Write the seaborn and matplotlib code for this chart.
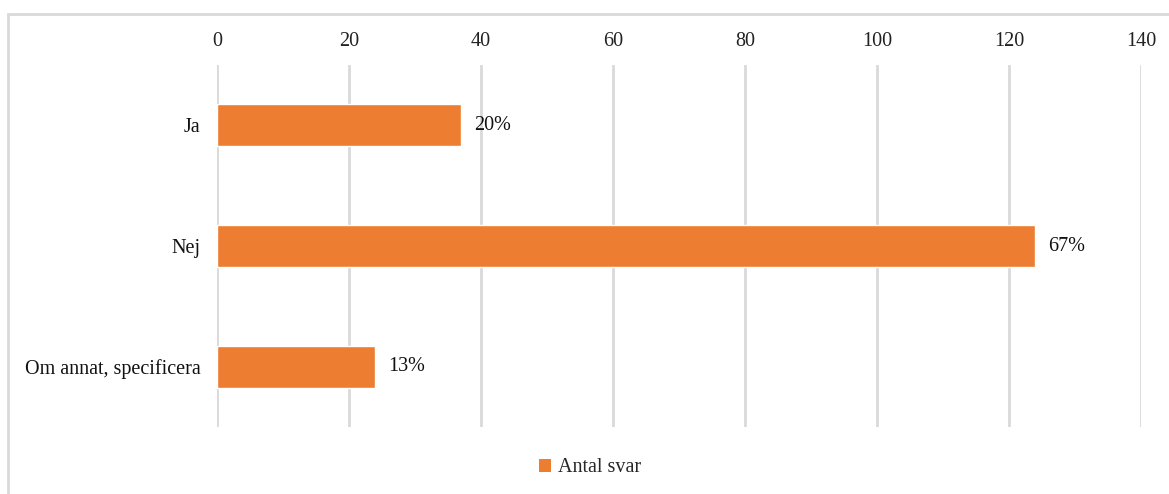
import matplotlib
matplotlib.use("Agg")
import matplotlib.pyplot as plt
import seaborn as sns
import pandas as pd
from matplotlib.patches import Patch, Rectangle

categories = ["Ja", "Nej", "Om annat, specificera"]
antal_svar = [37, 124, 24]
pct_labels = ["20%", "67%", "13%"]
x_ticks = [0, 20, 40, 60, 80, 100, 120, 140]
series_name = "Antal svar"

BAR_COLOR = "#ED7D31"
GRID_COLOR = "#D9D9D9"
FS = 14.5

sns.set_theme(style="white")
plt.rcParams["font.family"] = ["Liberation Serif", "DejaVu Serif"]

df = pd.DataFrame({"kategori": categories, "antal": antal_svar})

fig = plt.figure(figsize=(11.69, 4.94), dpi=100)
ax = fig.add_axes([217 / 1169, 1 - 427 / 494, (1141 - 217) / 1169, (427 - 65) / 494])

sns.barplot(data=df, x="antal", y="kategori", orient="h", color=BAR_COLOR,
            width=0.35, saturation=1, ax=ax)
ax.bar_label(ax.containers[0], labels=pct_labels, padding=9, fontsize=FS, color="#111111")

ax.set_xlim(0, 140)
ax.set_ylim(2.5, -0.5)
ax.set_xticks(x_ticks)
ax.xaxis.tick_top()
ax.tick_params(axis="x", length=0, pad=10, labelsize=FS, colors="#222222")
ax.tick_params(axis="y", length=0, pad=12, labelsize=FS, colors="#111111")
ax.set_xlabel("")
ax.set_ylabel("")
ax.grid(axis="x", color=GRID_COLOR, linewidth=2)
ax.set_axisbelow(True)
for s in ax.spines.values():
    s.set_visible(False)

# legend at bottom
handle = Patch(facecolor=BAR_COLOR, edgecolor="none", label=series_name)
fig.legend(handles=[handle], loc="center", bbox_to_anchor=(590 / 1169, 1 - 468 / 494),
           frameon=False, fontsize=FS, handlelength=0.6, handleheight=0.6,
           handletextpad=0.3)

# light chart border
fig.patches.append(Rectangle((8 / 1169, -0.01), 1.0, 1 - 14 / 494 + 0.01,
                             transform=fig.transFigure, fill=False,
                             edgecolor=GRID_COLOR, linewidth=2))

fig.savefig("out.png", dpi=100)
